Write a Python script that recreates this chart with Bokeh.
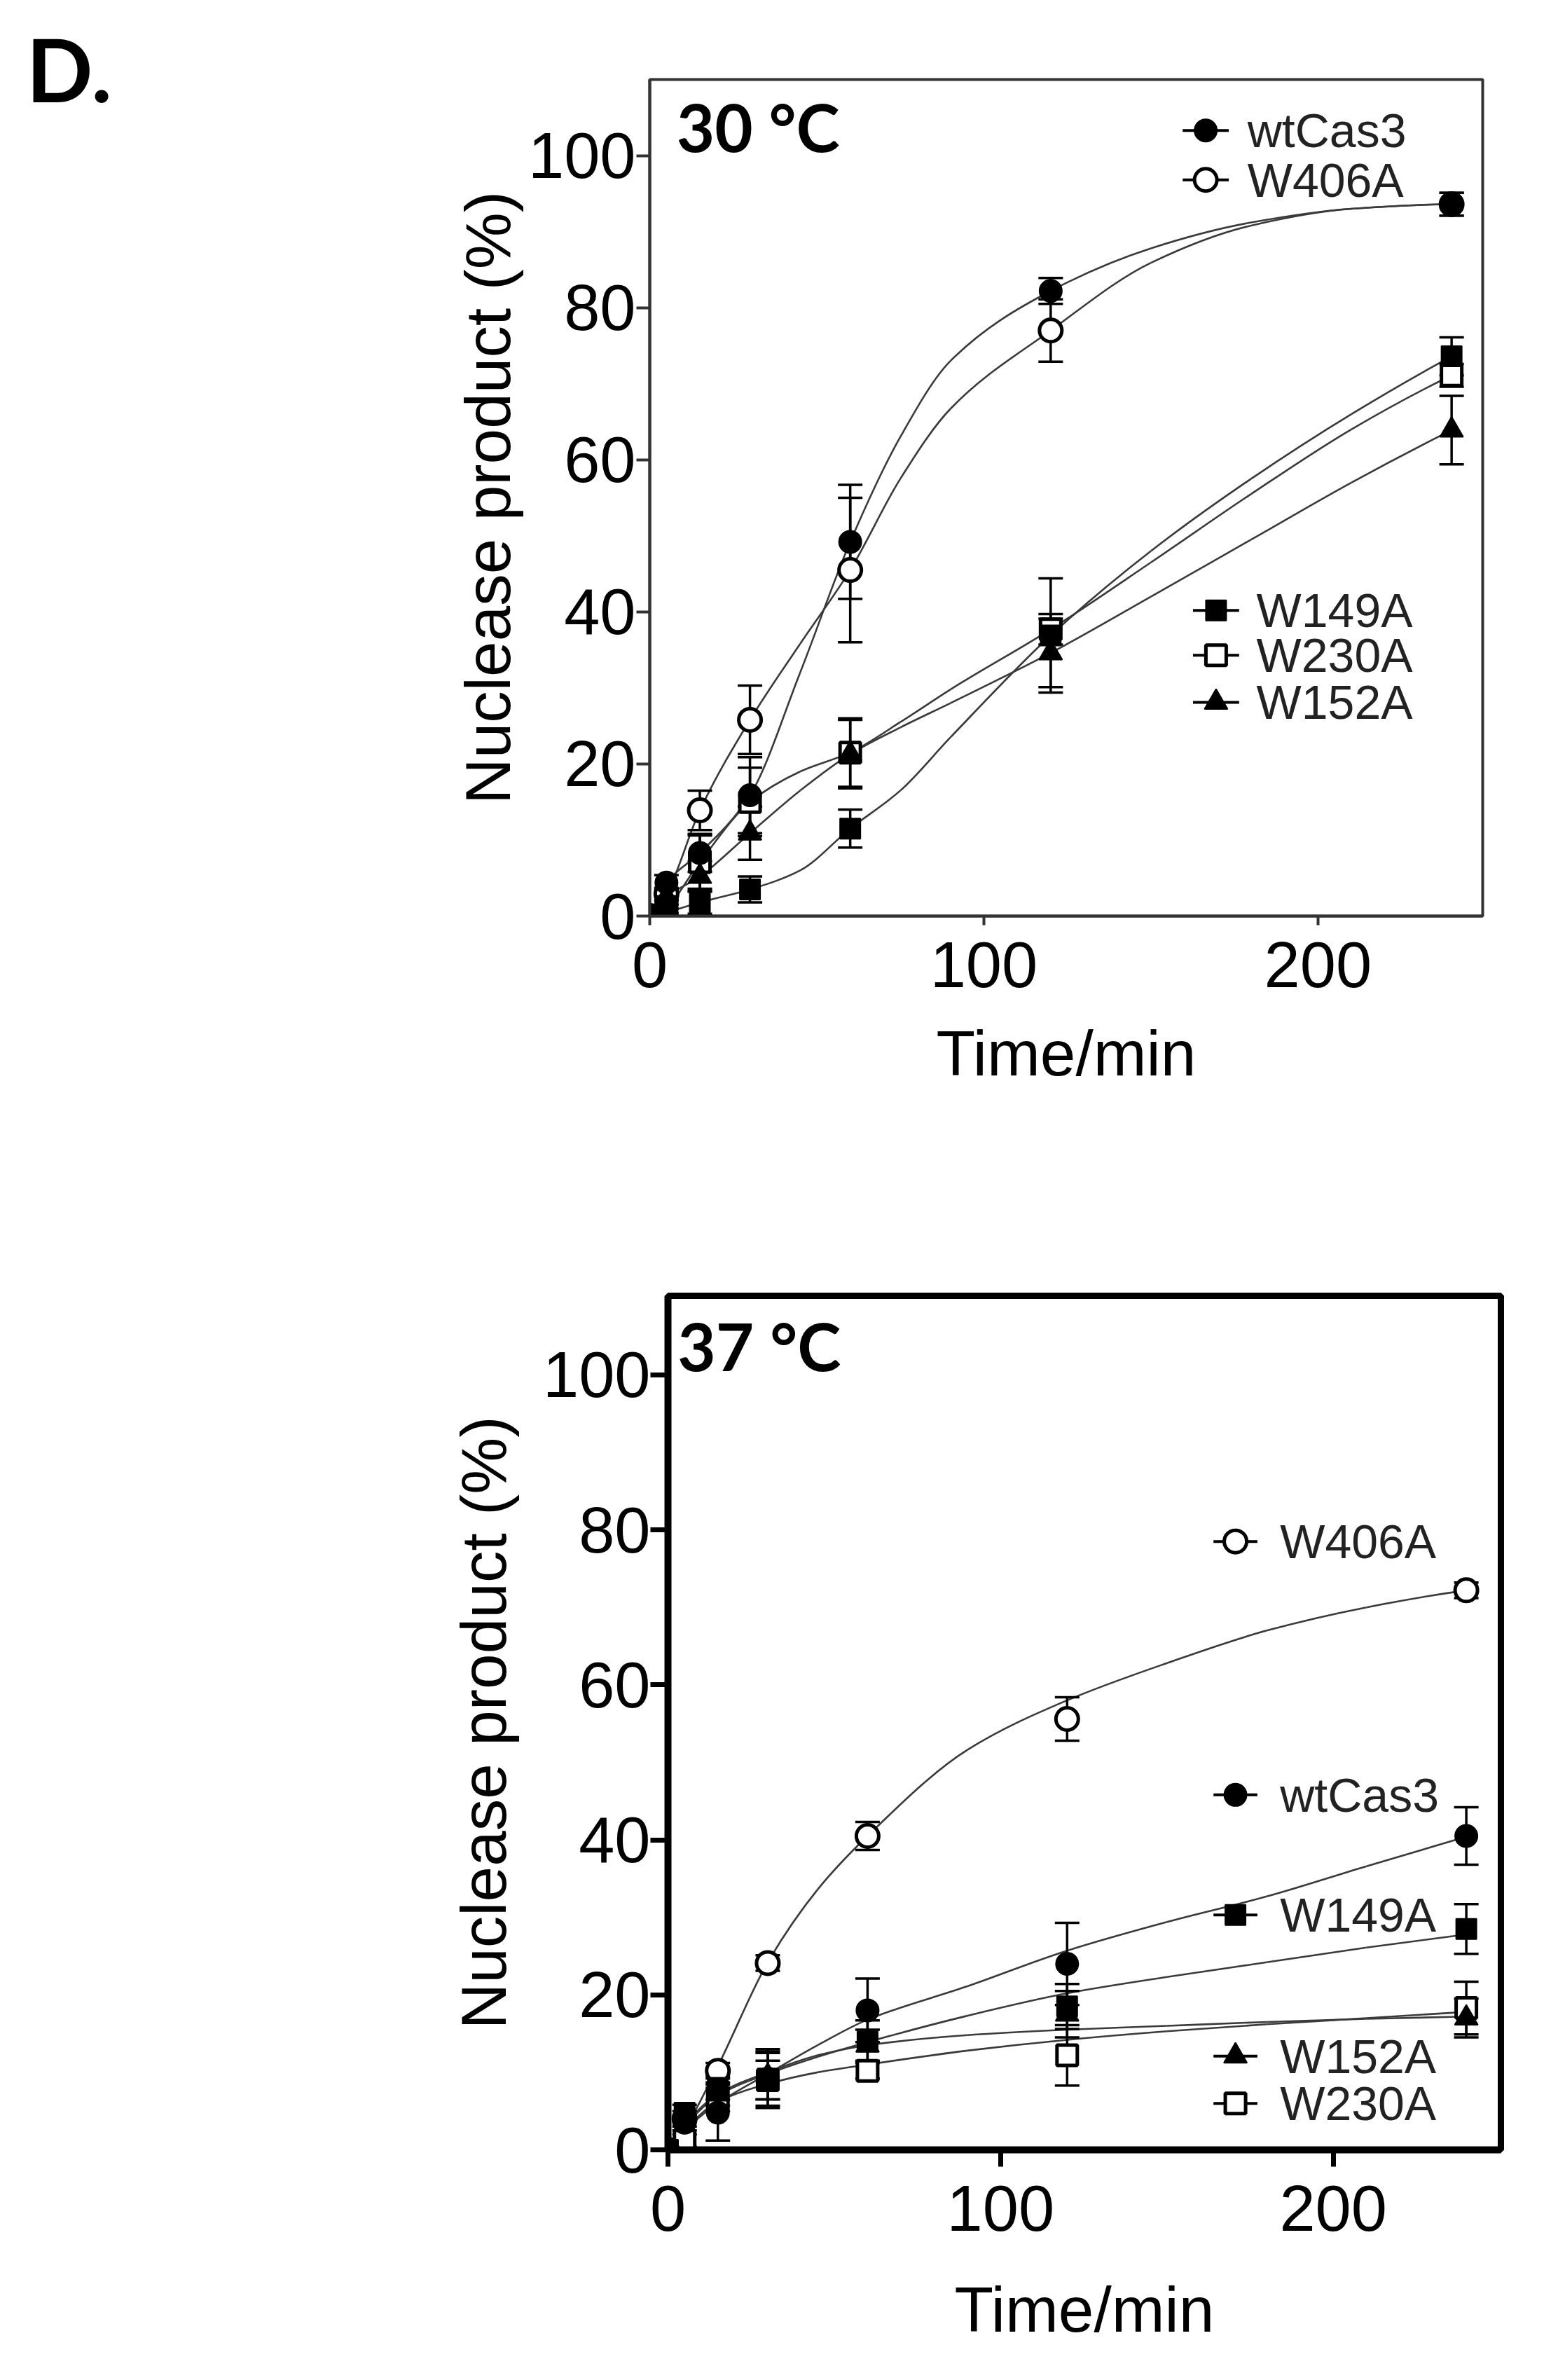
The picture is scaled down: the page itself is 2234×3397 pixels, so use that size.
import numpy as np
from bokeh.plotting import figure
from bokeh.models import ColumnDataSource, Range1d, FixedTicker, Label
from bokeh.layouts import column
from bokeh.embed import file_html
from bokeh.resources import INLINE
from bokeh.core.properties import value

# ---------------- data ----------------
series = ["wtCas3", "W406A", "W149A", "W230A", "W152A"]
time_min = [0, 5, 15, 30, 60, 120, 240]

# 30 °C : mean and error
wt_30 = [0, 4.4, 8.3, 15.9, 49.2, 82.2, 93.6]
wt_30_err = [0, 1.0, 2.5, 5.0, 7.5, 1.7, 1.5]
w406_30 = [0, 2.9, 13.9, 25.8, 45.5, 77.0, 93.6]
w406_30_err = [0, 0.8, 2.6, 4.5, 9.5, 4.1, 1.5]
w149_30 = [0, 0.5, 1.8, 3.5, 11.5, 36.9, 73.6]
w149_30_err = [0, 0.5, 1.5, 1.7, 2.5, 7.5, 2.5]
w230_30 = [0, 1.2, 7.1, 15.0, 21.5, 37.7, 71.1]
w230_30_err = [0, 0.8, 3.5, 4.5, 4.5, 2.0, 1.5]
w152_30 = [0, 2.5, 5.2, 10.9, 21.3, 34.6, 63.9]
w152_30_err = [0, 1.0, 2.0, 3.5, 4.5, 4.5, 4.5]

# 30 °C : fitted curves
fit_time_30 = [0, 5, 15, 30, 45, 60, 75, 90, 120, 150, 180, 210, 240]
wt_30_fit = [0, 4.4, 8.3, 15.9, 32.0, 49.2, 63.0, 73.0, 82.2, 87.8, 91.2, 93.0, 93.6]
w406_30_fit = [0, 2.9, 13.9, 25.8, 35.8, 45.5, 57.5, 66.7, 77.0, 85.9, 90.8, 93.0, 93.6]
w149_30_fit = [0, 0.5, 1.8, 3.5, 6.0, 11.5, 16.5, 23.5, 36.9, 48.0, 57.5, 66.0, 73.6]
w230_30_fit = [0, 1.2, 7.1, 15.0, 19.0, 21.5, 25.5, 29.8, 37.7, 46.5, 55.5, 64.0, 71.1]
w152_30_fit = [0, 2.5, 5.2, 10.9, 16.5, 21.3, 24.8, 28.0, 34.6, 42.0, 49.5, 57.0, 63.9]

# 37 °C : mean and error
wt_37 = [0, 3.5, 4.8, 9.2, 18.0, 24.0, 40.5]
wt_37_err = [0, 1.0, 3.6, 3.5, 4.1, 5.3, 3.7]
w406_37 = [0, 4.0, 10.2, 24.1, 40.5, 55.6, 72.2]
w406_37_err = [0, 0.5, 1.0, 1.0, 1.8, 2.8, 1.0]
w149_37 = [0, 4.8, 8.0, 9.2, 14.0, 18.5, 28.5]
w149_37_err = [0, 1.0, 1.5, 3.8, 2.7, 2.9, 3.2]
w152_37 = [0, 4.0, 7.2, 9.5, 13.5, 17.5, 17.0]
w152_37_err = [0, 1.0, 1.5, 3.0, 2.0, 3.0, 2.5]
w230_37 = [0, 1.2, 6.5, 9.0, 10.2, 12.2, 18.3]
w230_37_err = [0, 0.8, 1.5, 2.5, 1.0, 3.9, 3.4]

# 37 °C : fitted curves
fit_time_37 = [0, 5, 15, 30, 45, 60, 90, 120, 150, 180, 210, 240]
wt_37_fit = [0, 2.5, 6.0, 9.8, 13.5, 16.8, 21.1, 25.7, 29.4, 32.7, 36.6, 40.4]
w406_37_fit = [0, 2.7, 10.8, 24.2, 33.6, 40.5, 51.6, 58.0, 62.8, 67.0, 70.0, 72.2]
w149_37_fit = [0, 3.0, 7.0, 9.8, 12.0, 13.9, 17.3, 20.2, 22.3, 24.2, 26.1, 27.8]
w152_37_fit = [0, 3.2, 7.2, 10.0, 12.2, 13.5, 14.8, 15.5, 16.0, 16.5, 16.9, 17.2]
w230_37_fit = [0, 2.6, 6.2, 8.5, 10.0, 11.0, 12.8, 14.2, 15.3, 16.2, 17.0, 17.8]

x_ticks = [0, 100, 200]
y_ticks = [0, 20, 40, 60, 80, 100]
panel_titles = ["30 °C", "37 °C"]
panel_letter = "D."
x_title = "Time/min"
y_title = "Nuclease product (%)"
legend_order_30a = ["wtCas3", "W406A"]
legend_order_30b = ["W149A", "W230A", "W152A"]
legend_order_37 = ["W406A", "wtCas3", "W149A", "W152A", "W230A"]

data_30 = {
    "wtCas3": (wt_30, wt_30_err, wt_30_fit),
    "W406A": (w406_30, w406_30_err, w406_30_fit),
    "W149A": (w149_30, w149_30_err, w149_30_fit),
    "W230A": (w230_30, w230_30_err, w230_30_fit),
    "W152A": (w152_30, w152_30_err, w152_30_fit),
}
data_37 = {
    "wtCas3": (wt_37, wt_37_err, wt_37_fit),
    "W406A": (w406_37, w406_37_err, w406_37_fit),
    "W149A": (w149_37, w149_37_err, w149_37_fit),
    "W230A": (w230_37, w230_37_err, w230_37_fit),
    "W152A": (w152_37, w152_37_err, w152_37_fit),
}

# ---------------- styles / layout ----------------
STYLE = {
    "wtCas3": dict(marker="circle", size=32, fill_color="black", line_width=2),
    "W406A": dict(marker="circle", size=32, fill_color="white", line_width=5),
    "W149A": dict(marker="square", size=29, fill_color="black", line_width=2),
    "W230A": dict(marker="square", size=29, fill_color="white", line_width=5),
    "W152A": dict(marker="triangle", size=33, fill_color="black", line_width=2),
}
DRAW_ORDER = ["W406A", "W230A", "W152A", "W149A", "wtCas3"]
CURVE_COLOR = "#3a3a3a"
TICK_FONT = "Liberation Sans"


def pchip_bezier(xs, ys):
    x = np.asarray(xs, float)
    y = np.asarray(ys, float)
    h = np.diff(x)
    d = np.diff(y) / h
    n = len(x)
    m = np.zeros(n)
    for k in range(1, n - 1):
        if d[k - 1] * d[k] > 0:
            w1 = 2 * h[k] + h[k - 1]
            w2 = h[k] + 2 * h[k - 1]
            m[k] = (w1 + w2) / (w1 / d[k - 1] + w2 / d[k])

    def end(h0, h1, d0, d1):
        s = ((2 * h0 + h1) * d0 - h0 * d1) / (h0 + h1)
        if np.sign(s) != np.sign(d0):
            return 0.0
        if np.sign(d0) != np.sign(d1) and abs(s) > abs(3 * d0):
            return 3 * d0
        return s

    m[0] = end(h[0], h[1], d[0], d[1])
    m[-1] = end(h[-1], h[-2], d[-1], d[-2])
    return dict(
        x0=list(x[:-1]), y0=list(y[:-1]), x1=list(x[1:]), y1=list(y[1:]),
        cx0=list(x[:-1] + h / 3), cy0=list(y[:-1] + m[:-1] * h / 3),
        cx1=list(x[1:] - h / 3), cy1=list(y[1:] - m[1:] * h / 3),
    )


def make_fig(height, xmax, ymax, bt, bb, frame_color, frame_w, axis_w,
             tick_w, tick_x, tick_y, std_x, std_y, als_x, als_y):
    p = figure(width=2200, height=height, x_range=Range1d(0, xmax), y_range=Range1d(0, ymax),
               output_backend="svg", toolbar_location=None,
               min_border_left=927, min_border_right=84, min_border_top=bt, min_border_bottom=bb)
    p.xgrid.visible = False
    p.ygrid.visible = False
    p.outline_line_color = frame_color
    p.outline_line_width = frame_w
    p.outline_line_alpha = 1.0
    p.background_fill_color = "white"
    p.border_fill_color = "white"
    p.xaxis.ticker = FixedTicker(ticks=x_ticks)
    p.yaxis.ticker = FixedTicker(ticks=y_ticks)
    p.xaxis.axis_label = x_title
    p.yaxis.axis_label = y_title
    for ax, to, st, als in [(p.xaxis[0], tick_x, std_x, als_x), (p.yaxis[0], tick_y, std_y, als_y)]:
        ax.major_tick_out = to
        ax.major_tick_in = 0
        ax.minor_tick_out = 0
        ax.minor_tick_in = 0
        ax.major_tick_line_width = tick_w
        ax.major_tick_line_color = frame_color
        ax.axis_line_width = axis_w
        ax.axis_line_color = frame_color
        ax.major_label_text_font = TICK_FONT
        ax.major_label_text_font_size = "92px"
        ax.major_label_text_color = "black"
        ax.major_label_standoff = st
        ax.axis_label_text_font = TICK_FONT
        ax.axis_label_text_font_size = "91px"
        ax.axis_label_text_font_style = "normal"
        ax.axis_label_text_color = "black"
        ax.axis_label_standoff = als
    return p


def draw_series(p, data, fit_time):
    for name in DRAW_ORDER:
        fit = data[name][2]
        p.bezier("x0", "y0", "x1", "y1", "cx0", "cy0", "cx1", "cy1",
                 source=ColumnDataSource(pchip_bezier(fit_time, fit)),
                 line_color=CURVE_COLOR, line_width=2.6)
    for name in DRAW_ORDER:
        ys, errs, _ = data[name]
        t = [a for a, e in zip(time_min, errs) if e > 0]
        lo = [v - e for v, e in zip(ys, errs) if e > 0]
        hi = [v + e for v, e in zip(ys, errs) if e > 0]
        src = ColumnDataSource(dict(t=t, lo=lo, hi=hi))
        p.segment(x0="t", y0="lo", x1="t", y1="hi", source=src, line_color="black", line_width=3.5)
        p.scatter(x="t", y="hi", source=src, marker="dash", size=35, line_color="black", line_width=3.5)
        p.scatter(x="t", y="lo", source=src, marker="dash", size=35, line_color="black", line_width=3.5)
    for name in DRAW_ORDER:
        ys = data[name][0]
        st = STYLE[name]
        p.scatter(x=time_min, y=ys, marker=st["marker"], size=st["size"], fill_color=st["fill_color"],
                  line_color="black", line_width=st["line_width"])


def draw_legend(p, names, ys, lx, lhalf, tx):
    for name, ly in zip(names, ys):
        st = STYLE[name]
        p.segment(x0=[lx - lhalf], y0=[ly], x1=[lx + lhalf], y1=[ly], line_color="black", line_width=4)
        p.scatter(x=[lx], y=[ly], marker=st["marker"], size=st["size"], fill_color=st["fill_color"],
                  line_color="black", line_width=st["line_width"])
    p.text(x=[tx] * len(names), y=ys, text=names,
           text_font=value(TICK_FONT), text_font_size=value("68px"), text_color="#222222",
           text_baseline="middle", text_align="left")


# ---------------- panel 30 °C ----------------
p1 = make_fig(1630, 249.3, 110.0, 113, 323, "#333333", 4, 4, 4, 13, 19, 24, 1, 41, 4)
draw_series(p1, data_30, fit_time_30)
draw_legend(p1, legend_order_30a, [103.3, 96.8], 166.4, 6.9, 178.9)
draw_legend(p1, legend_order_30b, [40.2, 34.3, 28.1], 169.5, 6.9, 181.6)
p1.add_layout(Label(x=8.0, y=103.85, text=panel_titles[0], text_font="Lato", text_font_style="bold",
                    text_font_size="94px", text_color="black", text_baseline="alphabetic"))
p1.title.text = panel_letter
p1.title.align = "left"
p1.title.offset = -890
p1.title.standoff = -119
p1.title.text_font = "Lato"
p1.title.text_font_style = "bold"
p1.title.text_font_size = "125px"
p1.title.text_color = "black"

# ---------------- panel 37 °C ----------------
p2 = make_fig(1760, 250.4, 110.2, 219, 322, "black", 9, 10, 7, 24, 25, 27, 0, 59, 31)
p2.margin = (0, 0, 0, 26)
draw_series(p2, data_37, fit_time_37)
draw_legend(p2, legend_order_37, [78.5, 45.8, 30.3, 12.1, 6.0], 170.6, 6.6, 184.0)
p2.add_layout(Label(x=2.9, y=103.8, text=panel_titles[1], text_font="Lato", text_font_style="bold",
                    text_font_size="94px", text_color="black", text_baseline="alphabetic"))

layout = column(p1, p2)
open("out.html", "w").write(file_html(layout, INLINE))
